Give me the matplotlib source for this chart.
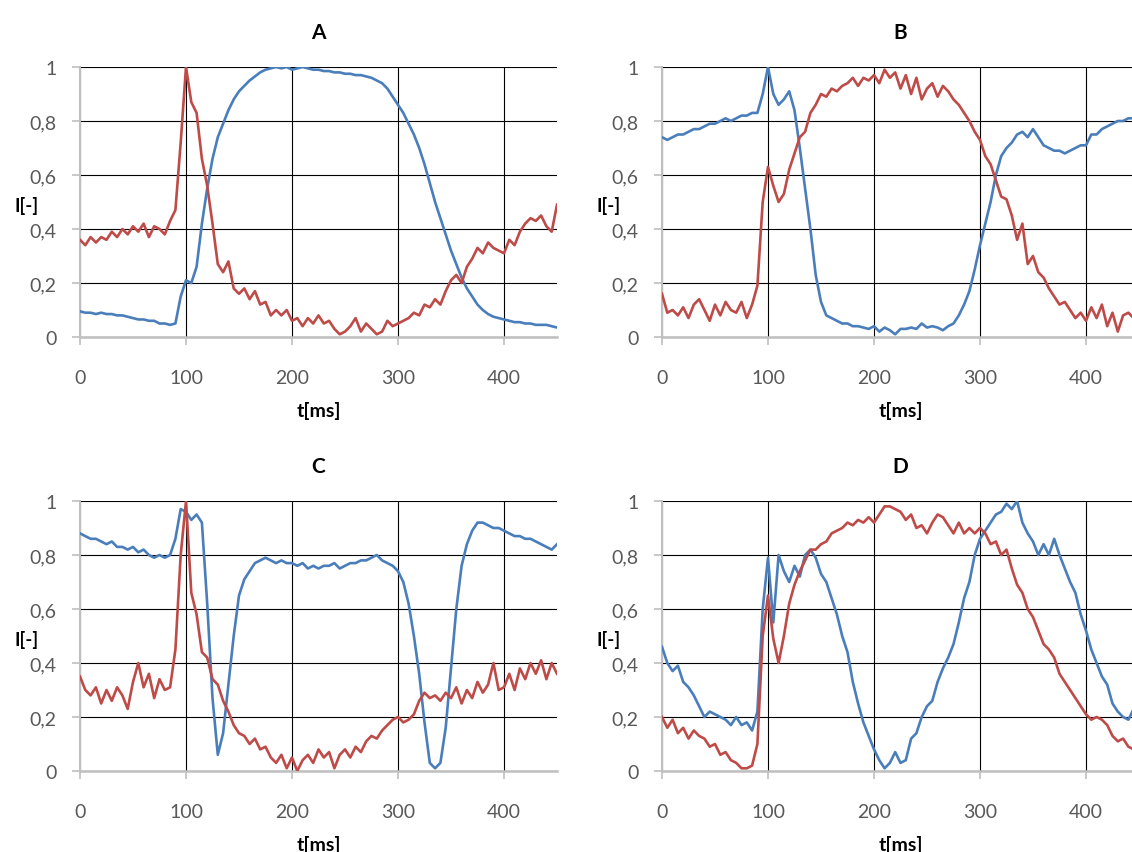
import numpy as np
import matplotlib
matplotlib.use("Agg")
import matplotlib.pyplot as plt
from matplotlib.ticker import FuncFormatter

t = list(range(0, 451, 5))

a_blue = [0.095, 0.09, 0.09, 0.085, 0.09, 0.085, 0.085, 0.08, 0.08, 0.075,
          0.07, 0.065, 0.065, 0.06, 0.06, 0.05, 0.05, 0.045, 0.05, 0.15,
          0.21, 0.20, 0.26, 0.42, 0.55, 0.66, 0.74, 0.79, 0.84, 0.88,
          0.91, 0.93, 0.95, 0.965, 0.98, 0.99, 0.995, 1.0, 0.995, 1.0,
          0.99, 0.995, 1.0, 0.995, 0.99, 0.99, 0.985, 0.985, 0.98, 0.98,
          0.975, 0.975, 0.97, 0.97, 0.965, 0.96, 0.95, 0.94, 0.92, 0.89,
          0.86, 0.83, 0.79, 0.75, 0.70, 0.64, 0.57, 0.50, 0.44, 0.38,
          0.32, 0.27, 0.22, 0.18, 0.15, 0.12, 0.10, 0.085, 0.075, 0.07,
          0.065, 0.06, 0.055, 0.055, 0.05, 0.05, 0.045, 0.045, 0.045, 0.04,
          0.035]
a_red = [0.36, 0.34, 0.37, 0.35, 0.37, 0.36, 0.39, 0.37, 0.40, 0.38,
         0.41, 0.39, 0.42, 0.37, 0.41, 0.40, 0.38, 0.43, 0.47, 0.72,
         1.00, 0.87, 0.83, 0.66, 0.56, 0.42, 0.27, 0.24, 0.28, 0.18,
         0.16, 0.18, 0.14, 0.17, 0.12, 0.13, 0.08, 0.10, 0.08, 0.10,
         0.06, 0.07, 0.04, 0.07, 0.05, 0.08, 0.05, 0.06, 0.03, 0.01,
         0.02, 0.04, 0.07, 0.02, 0.05, 0.03, 0.01, 0.02, 0.06, 0.04,
         0.05, 0.06, 0.07, 0.09, 0.08, 0.12, 0.11, 0.14, 0.12, 0.17,
         0.21, 0.23, 0.20, 0.26, 0.29, 0.33, 0.31, 0.35, 0.33, 0.32,
         0.31, 0.36, 0.34, 0.39, 0.42, 0.44, 0.43, 0.45, 0.41, 0.39,
         0.49]

b_blue = [0.74, 0.73, 0.74, 0.75, 0.75, 0.76, 0.77, 0.77, 0.78, 0.79,
          0.79, 0.80, 0.81, 0.80, 0.81, 0.82, 0.82, 0.83, 0.83, 0.90,
          1.00, 0.90, 0.86, 0.88, 0.91, 0.84, 0.70, 0.55, 0.40, 0.23,
          0.13, 0.08, 0.07, 0.06, 0.05, 0.05, 0.04, 0.04, 0.035, 0.03,
          0.04, 0.02, 0.035, 0.025, 0.01, 0.03, 0.03, 0.035, 0.03, 0.05,
          0.035, 0.04, 0.035, 0.025, 0.04, 0.05, 0.08, 0.12, 0.17, 0.25,
          0.34, 0.42, 0.50, 0.60, 0.67, 0.70, 0.72, 0.75, 0.76, 0.74,
          0.77, 0.74, 0.71, 0.70, 0.69, 0.69, 0.68, 0.69, 0.70, 0.71,
          0.71, 0.75, 0.75, 0.77, 0.78, 0.79, 0.80, 0.80, 0.81, 0.81,
          0.82]
b_red = [0.16, 0.09, 0.10, 0.08, 0.11, 0.07, 0.12, 0.14, 0.10, 0.06,
         0.12, 0.08, 0.13, 0.10, 0.09, 0.13, 0.07, 0.12, 0.19, 0.50,
         0.63, 0.56, 0.50, 0.53, 0.62, 0.68, 0.74, 0.76, 0.83, 0.86,
         0.90, 0.89, 0.92, 0.91, 0.93, 0.94, 0.96, 0.93, 0.96, 0.95,
         0.97, 0.94, 0.99, 0.96, 0.98, 0.92, 0.97, 0.90, 0.96, 0.88,
         0.92, 0.94, 0.89, 0.93, 0.91, 0.88, 0.86, 0.83, 0.80, 0.76,
         0.73, 0.67, 0.64, 0.58, 0.52, 0.51, 0.45, 0.36, 0.42, 0.27,
         0.30, 0.24, 0.22, 0.18, 0.15, 0.12, 0.13, 0.10, 0.07, 0.09,
         0.06, 0.11, 0.07, 0.12, 0.04, 0.09, 0.02, 0.08, 0.09, 0.07,
         0.10]

c_blue = [0.88, 0.87, 0.86, 0.86, 0.85, 0.84, 0.85, 0.83, 0.83, 0.82,
          0.83, 0.81, 0.82, 0.80, 0.79, 0.80, 0.79, 0.80, 0.86, 0.97,
          0.96, 0.93, 0.95, 0.92, 0.62, 0.27, 0.06, 0.14, 0.32, 0.50,
          0.65, 0.71, 0.74, 0.77, 0.78, 0.79, 0.78, 0.77, 0.78, 0.77,
          0.77, 0.76, 0.77, 0.75, 0.76, 0.75, 0.76, 0.76, 0.77, 0.75,
          0.76, 0.77, 0.77, 0.78, 0.78, 0.79, 0.80, 0.78, 0.77, 0.76,
          0.74, 0.70, 0.62, 0.50, 0.36, 0.18, 0.03, 0.01, 0.03, 0.16,
          0.38, 0.60, 0.76, 0.84, 0.89, 0.92, 0.92, 0.91, 0.90, 0.90,
          0.89, 0.88, 0.87, 0.87, 0.86, 0.86, 0.85, 0.84, 0.83, 0.82,
          0.84]
c_red = [0.35, 0.30, 0.28, 0.31, 0.25, 0.30, 0.26, 0.31, 0.28, 0.23,
         0.33, 0.40, 0.31, 0.36, 0.27, 0.34, 0.30, 0.31, 0.45, 0.80,
         1.00, 0.66, 0.58, 0.44, 0.42, 0.34, 0.32, 0.26, 0.22, 0.17,
         0.14, 0.13, 0.10, 0.12, 0.08, 0.09, 0.05, 0.03, 0.06, 0.01,
         0.05, 0.00, 0.04, 0.06, 0.03, 0.08, 0.05, 0.07, 0.01, 0.06,
         0.08, 0.05, 0.09, 0.07, 0.11, 0.13, 0.12, 0.15, 0.17, 0.19,
         0.20, 0.18, 0.19, 0.21, 0.26, 0.29, 0.27, 0.28, 0.26, 0.29,
         0.27, 0.31, 0.25, 0.30, 0.27, 0.33, 0.29, 0.32, 0.40, 0.30,
         0.31, 0.36, 0.30, 0.38, 0.34, 0.40, 0.36, 0.41, 0.34, 0.40,
         0.36]

d_blue = [0.46, 0.40, 0.37, 0.39, 0.33, 0.31, 0.28, 0.24, 0.20, 0.22,
          0.21, 0.20, 0.19, 0.17, 0.20, 0.17, 0.18, 0.15, 0.22, 0.60,
          0.79, 0.55, 0.80, 0.74, 0.70, 0.76, 0.72, 0.80, 0.82, 0.79,
          0.73, 0.70, 0.64, 0.58, 0.50, 0.44, 0.33, 0.25, 0.18, 0.13,
          0.08, 0.04, 0.01, 0.03, 0.07, 0.03, 0.04, 0.12, 0.14, 0.20,
          0.24, 0.26, 0.33, 0.38, 0.42, 0.47, 0.55, 0.64, 0.70, 0.80,
          0.86, 0.89, 0.92, 0.95, 0.96, 0.99, 0.97, 1.00, 0.92, 0.88,
          0.85, 0.80, 0.84, 0.80, 0.86, 0.80, 0.75, 0.70, 0.66, 0.58,
          0.52, 0.45, 0.40, 0.35, 0.32, 0.25, 0.22, 0.20, 0.19, 0.23,
          0.24]
d_red = [0.20, 0.16, 0.19, 0.14, 0.16, 0.12, 0.15, 0.13, 0.12, 0.09,
         0.10, 0.06, 0.07, 0.04, 0.03, 0.01, 0.01, 0.02, 0.10, 0.50,
         0.65, 0.49, 0.40, 0.50, 0.62, 0.69, 0.74, 0.78, 0.82, 0.82,
         0.84, 0.85, 0.88, 0.89, 0.90, 0.92, 0.91, 0.93, 0.92, 0.94,
         0.92, 0.95, 0.98, 0.98, 0.97, 0.96, 0.93, 0.95, 0.90, 0.91,
         0.88, 0.92, 0.95, 0.94, 0.91, 0.88, 0.92, 0.88, 0.90, 0.88,
         0.90, 0.88, 0.84, 0.85, 0.80, 0.82, 0.75, 0.69, 0.66, 0.60,
         0.57, 0.52, 0.47, 0.45, 0.42, 0.36, 0.33, 0.30, 0.27, 0.24,
         0.21, 0.19, 0.20, 0.19, 0.17, 0.13, 0.11, 0.12, 0.09, 0.08,
         0.07]

titles = ["A", "B", "C", "D"]
x_ticks = [0, 100, 200, 300, 400]
y_ticks = [0, 0.2, 0.4, 0.6, 0.8, 1]
BLUE = "#4a7ebb"
RED = "#be4b48"

plt.rcParams['font.family'] = ['Lato', 'DejaVu Sans']

W, H = 1132, 853
fig = plt.figure(figsize=(W / 100, H / 100), dpi=100)

# axes rectangles in pixel coords (left, top, width, height)
rects = [(80, 68, 477, 270), (662, 68, 477, 270),
         (80, 502, 477, 270), (662, 502, 477, 270)]
series = [(a_blue, a_red), (b_blue, b_red), (c_blue, c_red), (d_blue, d_red)]

fmt = FuncFormatter(lambda v, p: ("%g" % v).replace(".", ","))

for (l, tp, w, h), (sb, sr), title in zip(rects, series, titles):
    ax = fig.add_axes([l / W, (H - tp - h) / H, w / W, h / H])
    ax.plot(t, sb, color=BLUE, lw=1.9, zorder=3)
    ax.plot(t, sr, color=RED, lw=1.9, zorder=3)
    ax.set_xlim(0, 450)
    ax.set_ylim(0, 1)
    ax.set_xticks(x_ticks)
    ax.set_yticks(y_ticks)
    ax.yaxis.set_major_formatter(fmt)
    ax.grid(True, color="black", lw=0.8, zorder=1)
    for s in ["top", "right"]:
        ax.spines[s].set_visible(False)
    ax.spines["left"].set_color("#bfbfbf")
    ax.spines["bottom"].set_color("#bfbfbf")
    ax.spines["left"].set_linewidth(1.5)
    ax.spines["bottom"].set_linewidth(1.8)
    ax.tick_params(axis="both", colors="#bfbfbf", labelcolor="#595959",
                   labelsize=14, length=6, width=1.2)
    ax.tick_params(axis="x", pad=17)
    ax.tick_params(axis="y", pad=11)
    ax.set_title(title, fontsize=15, fontweight="bold", pad=21)
    ax.set_xlabel("t[ms]", fontsize=14, fontweight="bold",
                  verticalalignment="center")
    ax.xaxis.set_label_coords(0.5, -0.272)
    ax.set_ylabel("I[-]", fontsize=13.5, fontweight="bold", rotation=0)
    ax.yaxis.set_label_coords(-0.113, 0.49)
    ax.yaxis.label.set_verticalalignment("center")
    ax.yaxis.label.set_horizontalalignment("center")

fig.savefig("out.png", dpi=100)
